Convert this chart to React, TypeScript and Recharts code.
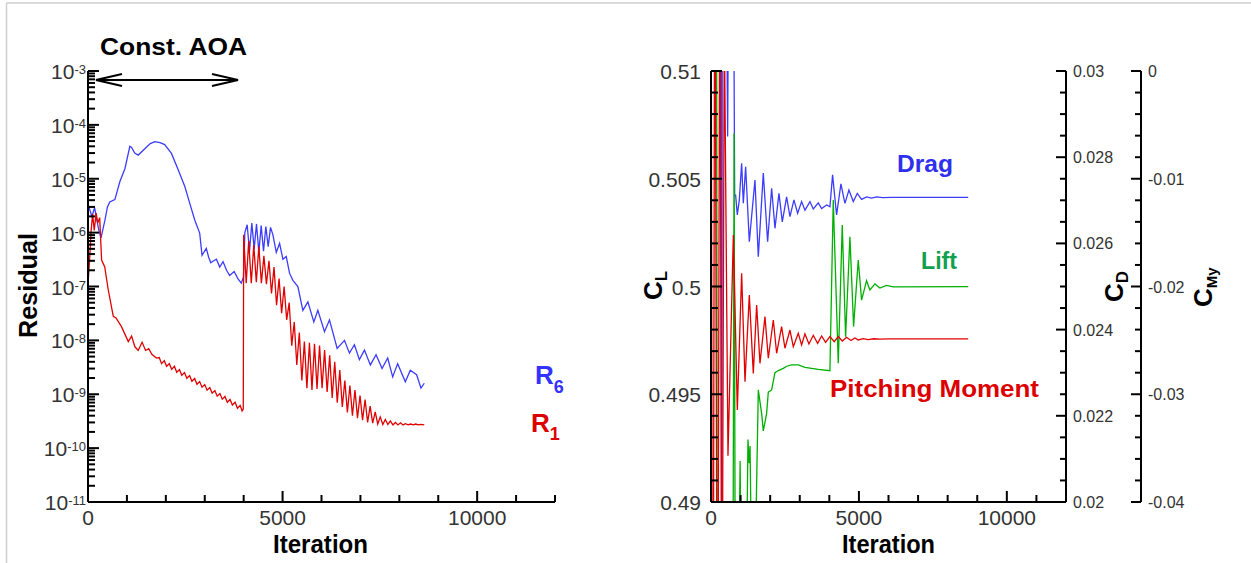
import React from 'react';
import { LineChart, Line, XAxis, YAxis } from 'recharts';

const FONT = "'Liberation Sans', Arial, Helvetica, sans-serif";

// ---------- axis tick definitions ----------
const iterationTicks = [0, 1000, 2000, 3000, 4000, 5000, 6000, 7000, 8000, 9000, 10000, 11000, 12000];
const iterationMajor = [0, 5000, 10000];

const residualExponents = [-11, -10, -9, -8, -7, -6, -5, -4];
const residualMultipliers = [1, 2, 3, 4, 5, 6, 7, 8, 9];
const residualTop = 1e-3;

const clTicks = [0.49, 0.491, 0.492, 0.493, 0.494, 0.495, 0.496, 0.497, 0.498, 0.499, 0.5, 0.501, 0.502, 0.503, 0.504, 0.505, 0.506, 0.507, 0.508, 0.509, 0.51];
const clMajor = [0.49, 0.495, 0.5, 0.505, 0.51];
const cdTicks = [0.02, 0.0205, 0.021, 0.0215, 0.022, 0.0225, 0.023, 0.0235, 0.024, 0.0245, 0.025, 0.0255, 0.026, 0.0265, 0.027, 0.0275, 0.028, 0.0285, 0.029, 0.0295, 0.03];
const cdMajor = [0.02, 0.022, 0.024, 0.026, 0.028, 0.03];
const cmTicks = [-0.04, -0.038, -0.036, -0.034, -0.032, -0.03, -0.028, -0.026, -0.024, -0.022, -0.02, -0.018, -0.016, -0.014, -0.012, -0.01, -0.008, -0.006, -0.004, -0.002, 0];
const cmMajor = [-0.04, -0.03, -0.02, -0.01, 0];

// ---------- series: [iteration, value] ----------
const r6Points: [number, number][] = [
  [0, 3.5e-6], [50, 2.6e-6], [100, 2.0e-6], [170, 2.9e-6], [220, 1.8e-6], [280, 1.1e-6], [335, 8.0e-7],
  [435, 1.7e-6], [500, 3.0e-6], [560, 3.7e-6], [690, 4.1e-6], [820, 8.9e-6], [950, 1.55e-5], [1075, 4.0e-5],
  [1120, 3.8e-5], [1200, 3.0e-5], [1290, 2.75e-5], [1460, 3.6e-5], [1600, 4.5e-5], [1720, 4.9e-5], [1850, 4.7e-5],
  [1970, 4.3e-5], [2145, 2.95e-5], [2320, 1.45e-5], [2490, 7.1e-6], [2615, 3.5e-6], [2745, 1.7e-6], [2870, 9.8e-7],
  [2930, 3.8e-7], [3040, 5.1e-7], [3100, 3.5e-7], [3155, 2.75e-7], [3230, 3.0e-7], [3300, 3.2e-7], [3385, 2.3e-7],
  [3470, 2.9e-7], [3560, 2.0e-7], [3640, 1.6e-7], [3755, 1.9e-7], [3850, 1.4e-7], [3940, 1.15e-7], [3995, 1.5e-7],
  [4030, 1.0e-6], [4090, 1.4e-6], [4150, 4.5e-7], [4210, 1.5e-6], [4270, 5.0e-7], [4330, 1.45e-6], [4390, 4.3e-7],
  [4450, 1.35e-6], [4510, 4.5e-7], [4570, 1.3e-6], [4630, 5.5e-7], [4690, 1.25e-6], [4752, 9.1e-7], [4838, 4.3e-7],
  [4923, 6.3e-7], [5009, 3.2e-7], [5094, 3.6e-7], [5180, 1.75e-7], [5265, 1.3e-7], [5393, 1.0e-7], [5521, 3.6e-8],
  [5650, 5.2e-8], [5803, 2.2e-8], [5906, 3.6e-8], [6077, 1.45e-8], [6205, 2.4e-8], [6402, 7.1e-9], [6590, 1.0e-8],
  [6718, 5.8e-9], [6846, 8.3e-9], [6974, 4.4e-9], [7103, 6.6e-9], [7256, 3.5e-9], [7402, 5.4e-9], [7556, 3.0e-9],
  [7701, 4.7e-9], [7829, 2.1e-9], [7957, 3.7e-9], [8154, 1.7e-9], [8282, 2.8e-9], [8444, 2.3e-9], [8556, 1.3e-9],
  [8641, 1.6e-9],
];

const r1Points: [number, number][] = [
  [0, 1.1e-7], [40, 3.0e-7], [80, 1.1e-6], [120, 2.2e-6], [160, 1.1e-6], [210, 2.3e-6], [250, 1.5e-6], [300, 1.9e-6],
  [350, 3.1e-7], [430, 2.3e-7], [520, 8.7e-8], [650, 2.8e-8], [720, 2.6e-8], [860, 1.8e-8], [1035, 9.5e-9],
  [1120, 1.2e-8], [1205, 7.6e-9], [1290, 6.5e-9], [1390, 9.2e-9], [1480, 6.5e-9], [1560, 7.0e-9], [1640, 5.5e-9],
  [1760, 4.7e-9], [1830, 4.8e-9], [1890, 3.7e-9], [1960, 4.2e-9], [2020, 3.3e-9], [2090, 3.7e-9], [2150, 2.9e-9],
  [2220, 3.3e-9], [2280, 2.56e-9], [2350, 2.87e-9], [2410, 2.25e-9], [2480, 2.53e-9], [2540, 1.98e-9], [2610, 2.22e-9],
  [2670, 1.74e-9], [2740, 1.96e-9], [2800, 1.53e-9], [2870, 1.72e-9], [2930, 1.35e-9], [3000, 1.51e-9], [3060, 1.19e-9],
  [3130, 1.33e-9], [3190, 1.05e-9], [3260, 1.17e-9], [3320, 9.2e-10], [3390, 1.03e-9], [3450, 8.1e-10], [3520, 9.1e-10],
  [3580, 7.1e-10], [3650, 8.0e-10], [3710, 6.3e-10], [3780, 7.1e-10], [3840, 5.5e-10], [3910, 6.2e-10], [3960, 4.9e-10],
  [3990, 5.3e-10], [4000, 9.1e-7], [4065, 1.15e-7], [4130, 7.0e-7], [4195, 1.15e-7], [4260, 5.8e-7], [4325, 1.2e-7],
  [4390, 5.5e-7], [4455, 1.15e-7], [4520, 3.7e-7], [4585, 1.1e-7], [4650, 3.0e-7], [4715, 7.4e-8], [4780, 2.3e-7],
  [4845, 4.5e-8], [4910, 1.4e-7], [4975, 3.2e-8], [5040, 1.0e-7], [5105, 2.4e-8], [5170, 5.0e-8], [5235, 8.0e-9],
  [5300, 2.2e-8], [5365, 3.5e-9], [5430, 1.4e-8], [5495, 1.8e-9], [5560, 9.5e-9], [5625, 1.3e-9], [5690, 9.0e-9],
  [5755, 1.2e-9], [5820, 8.6e-9], [5885, 1.25e-9], [5950, 8.0e-9], [6015, 1.3e-9], [6080, 6.6e-9], [6145, 1.1e-9],
  [6210, 5.3e-9], [6275, 8.5e-10], [6340, 4.0e-9], [6405, 7.0e-10], [6470, 2.8e-9], [6535, 5.8e-10], [6600, 1.8e-9],
  [6665, 4.6e-10], [6730, 1.45e-9], [6795, 4.0e-10], [6860, 1.2e-9], [6925, 3.6e-10], [6990, 9.5e-10], [7055, 3.3e-10],
  [7120, 8.0e-10], [7185, 3.0e-10], [7250, 6.0e-10], [7315, 2.9e-10], [7380, 4.7e-10], [7445, 2.8e-10], [7510, 3.8e-10],
  [7575, 2.75e-10], [7640, 3.4e-10], [7705, 2.75e-10], [7770, 3.2e-10], [7835, 2.7e-10], [7900, 3.0e-10], [7965, 2.7e-10],
  [8030, 2.95e-10], [8095, 2.7e-10], [8160, 2.85e-10], [8225, 2.7e-10], [8290, 2.8e-10], [8355, 2.7e-10], [8420, 2.8e-10],
  [8485, 2.7e-10], [8550, 2.75e-10], [8640, 2.7e-10],
];

const dragPoints: [number, number][] = [
  [0, 0.05], [250, 0.045], [330, 0.04], [360, 0.012], [390, 0.04], [480, 0.036], [563, 0.02848], [620, 0.036],
  [760, 0.033], [800, 0.02712], [833, 0.02712], [889, 0.02666], [957, 0.02701], [1036, 0.02786], [1092, 0.02693],
  [1171, 0.02778], [1295, 0.02604], [1486, 0.02747], [1599, 0.02569], [1768, 0.02763], [1914, 0.02604], [2050, 0.02728],
  [2162, 0.02635], [2297, 0.02716], [2410, 0.0265], [2556, 0.02708], [2669, 0.02662], [2804, 0.02701], [2928, 0.0267],
  [3063, 0.02697], [3176, 0.02677], [3345, 0.02697], [3457, 0.0268], [3626, 0.02694], [3739, 0.02681], [3908, 0.02689],
  [4020, 0.02685], [4110, 0.02759], [4245, 0.02666], [4392, 0.02738], [4527, 0.02693], [4662, 0.02724], [4809, 0.02697],
  [4944, 0.02716], [5090, 0.02702], [5259, 0.02708], [5428, 0.02705], [5600, 0.02708], [5800, 0.02706], [6104, 0.02707],
  [8694, 0.02707],
];

const liftPoints: [number, number][] = [
  [0, 0.56], [150, 0.56], [250, 0.44], [450, 0.45], [700, 0.46], [780, 0.5071], [830, 0.48], [940, 0.487],
  [985, 0.4919], [1020, 0.486], [1200, 0.487], [1250, 0.4929], [1290, 0.4918], [1320, 0.4926], [1370, 0.487],
  [1480, 0.486], [1599, 0.4952], [1712, 0.4941], [1768, 0.4933], [1880, 0.4941], [1937, 0.4951], [2050, 0.4952],
  [2162, 0.496], [2275, 0.4961], [2444, 0.4962], [2556, 0.4963], [2725, 0.49636], [2950, 0.49636], [3176, 0.49625],
  [3626, 0.49615], [4020, 0.49609], [4133, 0.50401], [4302, 0.49644], [4437, 0.50285], [4550, 0.49767], [4696, 0.50231],
  [4820, 0.49814], [4977, 0.50123], [5090, 0.49937], [5259, 0.50027], [5372, 0.49984], [5541, 0.50012], [5710, 0.49993],
  [5935, 0.50005], [6160, 0.49998], [8694, 0.49999],
];

const momentPoints: [number, number][] = [
  [0, 0.02], [60, -0.08], [130, 0.02], [220, -0.07], [300, 0.015], [370, -0.06], [450, 0.005], [574, -0.0357],
  [755, -0.01522], [890, -0.03146], [1036, -0.01877], [1149, -0.02883], [1295, -0.02079], [1430, -0.02806],
  [1543, -0.02172], [1655, -0.02713], [1824, -0.0228], [1937, -0.02666], [2106, -0.02311], [2219, -0.0262],
  [2387, -0.02373], [2500, -0.02573], [2669, -0.02404], [2782, -0.02558], [2950, -0.02434], [3063, -0.02543],
  [3176, -0.0244], [3311, -0.02533], [3457, -0.02453], [3604, -0.02527], [3739, -0.02459], [3874, -0.02518],
  [4020, -0.02465], [4167, -0.02512], [4302, -0.02465], [4437, -0.02506], [4583, -0.02471], [4730, -0.02501],
  [4865, -0.02477], [4977, -0.02496], [5146, -0.02484], [5315, -0.02493], [5500, -0.02485], [5700, -0.02489],
  [6000, -0.02487], [8694, -0.02487],
];

// ---------- derived tables ----------
const toRows = (pts: [number, number][]) => pts.map(([it, v]) => ({ it, v }));
const residualTicks: number[] = [];
residualExponents.forEach((e) =>
  residualMultipliers.forEach((m) => residualTicks.push(Number((m * Math.pow(10, e)).toPrecision(3))))
);
residualTicks.push(residualTop);

const TICK_COLOR = '#333';
const AXIS_LINE = { stroke: '#000', strokeWidth: 2 };

// ---------- custom ticks: tickSize 0, so x / y passed = position on the axis line ----------
const IterTick = (props: any) => {
  const { x, y, payload } = props;
  const major = iterationMajor.includes(payload.value);
  return (
    <g>
      <line x1={x} x2={x} y1={y} y2={y - (major ? 11 : 7)} stroke="#000" strokeWidth={2} />
      {major && (
        <text x={x} y={y + 23} textAnchor="middle" fontFamily={FONT} fontSize={21} fill={TICK_COLOR}>
          {payload.value}
        </text>
      )}
    </g>
  );
};

const LogTick = (props: any) => {
  const { x, y, payload } = props;
  const l = Math.log10(payload.value);
  const major = Math.abs(l - Math.round(l)) < 1e-6;
  return (
    <g>
      <line x1={x} x2={x + (major ? 11 : 7)} y1={y} y2={y} stroke="#000" strokeWidth={2} />
      {major && (
        <text x={x - 2} y={y + 8} textAnchor="end" fontFamily={FONT} fontSize={21} fill={TICK_COLOR}>
          10
          <tspan fontSize={13} dy={-5}>
            {Math.round(l)}
          </tspan>
        </text>
      )}
    </g>
  );
};

const ClTick = (props: any) => {
  const { x, y, payload } = props;
  const major = clMajor.includes(payload.value);
  return (
    <g>
      <line x1={x} x2={x + (major ? 11 : 7)} y1={y} y2={y} stroke="#000" strokeWidth={2} />
      {major && (
        <text x={x - 10} y={y + 8} textAnchor="end" fontFamily={FONT} fontSize={21} fill={TICK_COLOR}>
          {String(payload.value)}
        </text>
      )}
    </g>
  );
};

const makeRightTick = (majors: number[]) => (props: any) => {
  const { x, y, payload } = props;
  const major = majors.includes(payload.value);
  return (
    <g>
      <line x1={x - (major ? 10 : 6)} x2={x} y1={y} y2={y} stroke="#000" strokeWidth={2} />
      {major && (
        <text x={x + 7} y={y + 6} textAnchor="start" fontFamily={FONT} fontSize={16} fill={TICK_COLOR}>
          {String(payload.value)}
        </text>
      )}
    </g>
  );
};
const CdTick = makeRightTick(cdMajor);
const CmTick = makeRightTick(cmMajor);

const BLUE = '#3c3cff';
const RED = '#e00000';
const GREEN = '#00b000';

const axisCommon = {
  type: 'number' as const,
  allowDataOverflow: true,
  interval: 0 as const,
  tickSize: 0,
  tickMargin: 0,
  tickLine: false,
  axisLine: AXIS_LINE,
};

export default function App() {
  const r6 = toRows(r6Points);
  const r1 = toRows(r1Points);
  const drag = toRows(dragPoints);
  const lift = toRows(liftPoints);
  const moment = toRows(momentPoints);

  return (
    <div style={{ position: 'absolute', left: 0, top: 0, width: 1251, height: 563, overflow: 'hidden' }}>
      <div style={{ position: 'absolute', left: 0, top: 0 }}>
        <LineChart width={630} height={563} margin={{ top: 71, right: 75, bottom: 31, left: 0 }}>
          <XAxis {...axisCommon} dataKey="it" domain={[0, 12000]} ticks={iterationTicks} tick={IterTick} height={30} />
          <YAxis {...axisCommon} scale="log" domain={[1e-11, 1e-3]} ticks={residualTicks} tick={LogTick} width={88} />
          <Line data={r6} dataKey="v" stroke={BLUE} strokeWidth={1.3} dot={false} isAnimationActive={false} />
          <Line data={r1} dataKey="v" stroke={RED} strokeWidth={1.3} dot={false} isAnimationActive={false} />
        </LineChart>
      </div>

      <div style={{ position: 'absolute', left: 630, top: 0 }}>
        <LineChart width={621} height={563} margin={{ top: 71, right: 0, bottom: 31, left: 0 }}>
          <XAxis {...axisCommon} dataKey="it" domain={[0, 12000]} ticks={iterationTicks} tick={IterTick} height={30} />
          <YAxis {...axisCommon} yAxisId="cl" domain={[0.49, 0.51]} ticks={clTicks} tick={ClTick} width={81} />
          <YAxis {...axisCommon} yAxisId="cd" orientation="right" domain={[0.02, 0.03]} ticks={cdTicks} tick={CdTick} width={75} />
          <YAxis {...axisCommon} yAxisId="cm" orientation="right" domain={[-0.04, 0]} ticks={cmTicks} tick={CmTick} width={110} />
          <Line yAxisId="cd" data={drag} dataKey="v" stroke={BLUE} strokeWidth={1.3} dot={false} isAnimationActive={false} />
          <Line yAxisId="cl" data={lift} dataKey="v" stroke={GREEN} strokeWidth={1.3} dot={false} isAnimationActive={false} />
          <Line yAxisId="cm" data={moment} dataKey="v" stroke={RED} strokeWidth={1.3} dot={false} isAnimationActive={false} />
        </LineChart>
      </div>

      <svg width={1251} height={563} style={{ position: 'absolute', left: 0, top: 0, pointerEvents: 'none' }}>
        <line x1={6.5} y1={3} x2={6.5} y2={563} stroke="#cfcfcf" strokeWidth={1.5} />
        <line x1={6} y1={3} x2={1251} y2={3} stroke="#cfcfcf" strokeWidth={1.5} />

        <text x={100} y={55} fontFamily={FONT} fontWeight="bold" fontSize={24} textLength={147} lengthAdjust="spacingAndGlyphs" fill="#000">
          Const. AOA
        </text>
        <line x1={96} y1={80} x2={238} y2={80} stroke="#000" strokeWidth={2} />
        <polyline points="122,74 96,80 122,86" fill="none" stroke="#000" strokeWidth={2} />
        <polyline points="212,74 238,80 212,86" fill="none" stroke="#000" strokeWidth={2} />

        <text transform="translate(37,285.5) rotate(-90)" textAnchor="middle" fontFamily={FONT} fontWeight="bold" fontSize={25} textLength={105} lengthAdjust="spacingAndGlyphs" fill="#000">
          Residual
        </text>
        <text x={320.5} y={553} textAnchor="middle" fontFamily={FONT} fontWeight="bold" fontSize={25} textLength={95} lengthAdjust="spacingAndGlyphs" fill="#000">
          Iteration
        </text>
        <text x={888.5} y={553} textAnchor="middle" fontFamily={FONT} fontWeight="bold" fontSize={25} textLength={93} lengthAdjust="spacingAndGlyphs" fill="#000">
          Iteration
        </text>

        <text x={535} y={384} fontFamily={FONT} fontWeight="bold" fontSize={26} fill="#3333ff">
          R<tspan fontSize={18} dy={9}>6</tspan>
        </text>
        <text x={531} y={432} fontFamily={FONT} fontWeight="bold" fontSize={26} fill="#dd0000">
          R<tspan fontSize={18} dy={8}>1</tspan>
        </text>

        <text transform="translate(662,300) rotate(-90)" fontFamily={FONT} fontWeight="bold" fontSize={26} fill="#000">
          C<tspan fontSize={17} dy={5}>L</tspan>
        </text>
        <text transform="translate(1123,302) rotate(-90)" fontFamily={FONT} fontWeight="bold" fontSize={26} fill="#000">
          C<tspan fontSize={17} dy={5}>D</tspan>
        </text>
        <text transform="translate(1212,307) rotate(-90)" fontFamily={FONT} fontWeight="bold" fontSize={26} fill="#000">
          C<tspan fontSize={15} dy={5}>My</tspan>
        </text>

        <text x={897} y={172} fontFamily={FONT} fontWeight="bold" fontSize={23} textLength={56} lengthAdjust="spacingAndGlyphs" fill="#2f2fee">
          Drag
        </text>
        <text x={921} y={269} fontFamily={FONT} fontWeight="bold" fontSize={23} textLength={36} lengthAdjust="spacingAndGlyphs" fill="#10a050">
          Lift
        </text>
        <text x={830} y={397} fontFamily={FONT} fontWeight="bold" fontSize={23} textLength={209} lengthAdjust="spacingAndGlyphs" fill="#dd0000">
          Pitching Moment
        </text>
      </svg>
    </div>
  );
}
